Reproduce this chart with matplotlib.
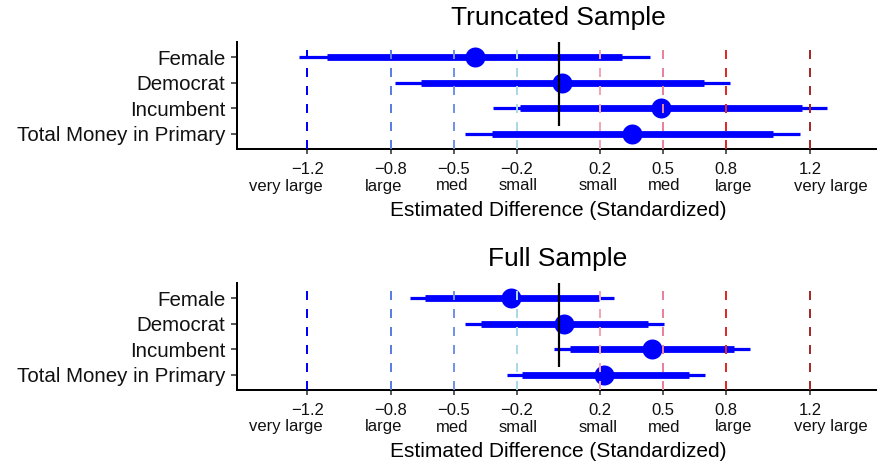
import matplotlib
matplotlib.use("Agg")
import matplotlib.pyplot as plt
import matplotlib.transforms as mtransforms
import numpy as np

plt.rcParams['font.family'] = ['Liberation Sans', 'DejaVu Sans']
plt.rcParams['lines.scale_dashes'] = False

# ---------------- data ----------------
categories = ["Female", "Democrat", "Incumbent", "Total Money in Primary"]

trunc_est  = [-0.400, 0.018, 0.487, 0.349]
trunc_lo95 = [-1.237, -0.780, -0.313, -0.445]
trunc_hi95 = [0.438, 0.821, 1.284, 1.152]
trunc_lo90 = [-1.106, -0.656, -0.183, -0.317]
trunc_hi90 = [0.304, 0.693, 1.162, 1.026]

full_est  = [-0.226, 0.028, 0.446, 0.217]
full_lo95 = [-0.711, -0.445, -0.021, -0.248]
full_hi95 = [0.265, 0.504, 0.915, 0.698]
full_lo90 = [-0.636, -0.372, 0.054, -0.173]
full_hi90 = [0.191, 0.428, 0.840, 0.623]

ref_values = [-1.2, -0.8, -0.5, -0.2, 0.2, 0.5, 0.8, 1.2]
ref_numbers = ["\u22121.2", "\u22120.8", "\u22120.5", "\u22120.2", "0.2", "0.5", "0.8", "1.2"]
ref_words = ["very large", "large", "med", "small", "small", "med", "large", "very large"]
ref_colors = ["#0000FF", "#5B7EE3", "#7392EC", "#ADD8E6",
              "#F2A7B8", "#E8839D", "#E02A2A", "#A52A2A"]
word_shift_px = [-21, -7, -2, 1, -2, 1, 7, 21]

panels = [
    ("Truncated Sample", trunc_est, trunc_lo95, trunc_hi95, trunc_lo90, trunc_hi90),
    ("Full Sample", full_est, full_lo95, full_hi95, full_lo90, full_hi90),
]

W, H = 878, 467
DPI = 100
fig = plt.figure(figsize=(W / DPI, H / DPI), dpi=DPI)
px = 72.0 / DPI  # points per pixel

axes_boxes = [(42, 149), (283, 390)]  # top, bottom pixel rows
left_px, right_px = 237, 879

ypos = np.arange(len(categories), 0, -1)  # Female on top

for (title, est, lo95, hi95, lo90, hi90), (top, bot) in zip(panels, axes_boxes):
    ax = fig.add_axes([left_px / W, 1 - bot / H, (right_px - left_px) / W, (bot - top) / H])
    ax.set_xlim(-1.535, 1.53)
    ax.set_ylim(0.4, 4.6)

    # intervals
    ax.hlines(ypos, lo95, hi95, color="#0000FF", linewidth=3.2 * px, capstyle='butt', zorder=2)
    ax.hlines(ypos, lo90, hi90, color="#0000FF", linewidth=6.8 * px, capstyle='butt', zorder=2)
    ax.plot(est, ypos, 'o', color="#0000FF", markersize=20 * px, markeredgewidth=0, zorder=3)

    trans = mtransforms.blended_transform_factory(ax.transData, ax.transAxes)
    # reference lines
    for v, c in zip(ref_values, ref_colors):
        ln, = ax.plot([v, v], [0, 1], transform=trans, color=c, linewidth=2.0 * px, zorder=4)
        ln.set_dashes((9 * px, 9 * px))
        ln.set_dash_capstyle('butt')
    zl, = ax.plot([0, 0], [1, 0], transform=trans, color="black", linewidth=2.2 * px, zorder=4)
    zl.set_dashes((84 * px, 200 * px))
    zl.set_dash_capstyle('butt')

    # spines
    for s in ["top", "right"]:
        ax.spines[s].set_visible(False)
    for s in ["left", "bottom"]:
        ax.spines[s].set_linewidth(2.0 * px)
        ax.spines[s].set_color("black")

    ax.set_yticks(ypos)
    ax.set_yticklabels(categories, fontsize=14.8, color="#111111")
    ax.tick_params(axis='y', length=6 * px, width=1.6 * px, color="#333333", pad=3 * px * 1.0 + 2.0)

    ax.set_xticks(ref_values)
    ax.set_xticklabels(ref_numbers, fontsize=12, color="#111111")
    ax.tick_params(axis='x', length=4.5 * px, width=1.6 * px, color="#333333", pad=6.0)

    for v, w, sh in zip(ref_values, ref_words, word_shift_px):
        t = mtransforms.offset_copy(trans, fig=fig, x=sh * px, y=-41.5 * px, units='points')
        ax.text(v, 0, w, transform=t, ha='center', va='baseline', fontsize=12, color="#111111")

    tx = mtransforms.offset_copy(ax.transAxes, fig=fig, x=0, y=-67 * px, units='points')
    ax.text(0.5, 0, "Estimated Difference (Standardized)", transform=tx,
            ha='center', va='baseline', fontsize=15, color="black")

    tt = mtransforms.offset_copy(ax.transAxes, fig=fig, x=0, y=17 * px, units='points')
    ax.text(0.5, 1, title, transform=tt, ha='center', va='baseline', fontsize=19, color="black")

fig.savefig("out.png", dpi=DPI)
